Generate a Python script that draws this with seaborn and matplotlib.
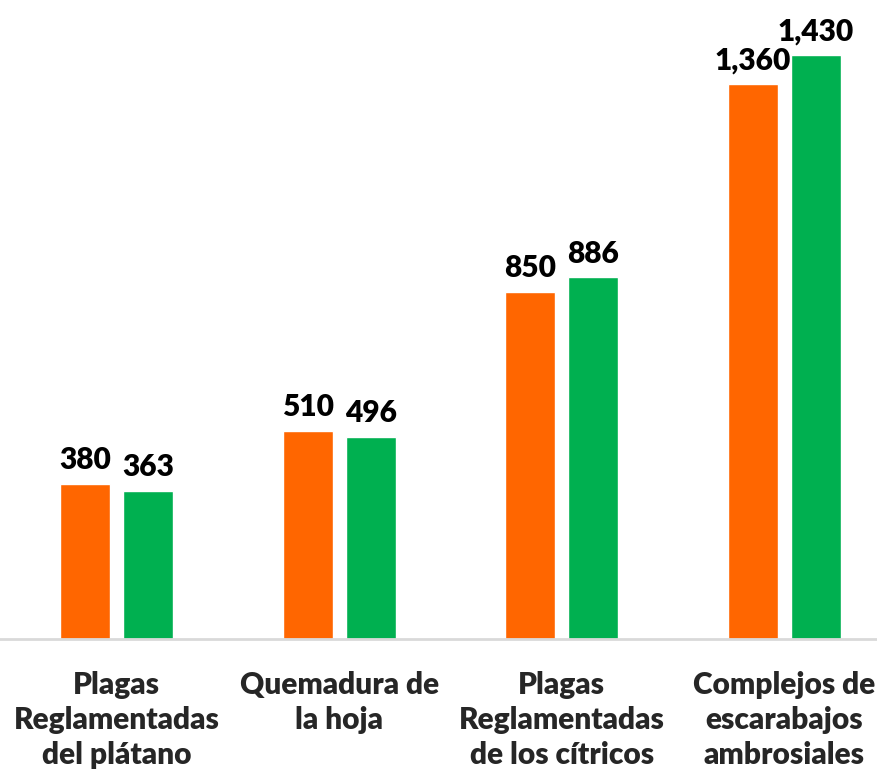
import matplotlib
matplotlib.use("Agg")
import matplotlib.pyplot as plt
import seaborn as sns
import pandas as pd

# datos
categorias = ["Plagas\nReglamentadas\ndel plátano",
              "Quemadura de\nla hoja",
              "Plagas\nReglamentadas\nde los cítricos",
              "Complejos de\nescarabajos\nambrosiales"]
serie_1 = [380, 510, 850, 1360]
serie_2 = [363, 496, 886, 1430]
series = ["Serie 1", "Serie 2"]
colores = ["#FF6600", "#00B050"]

df = pd.DataFrame({
    "categoria": categorias * 2,
    "valor": serie_1 + serie_2,
    "serie": [series[0]] * 4 + [series[1]] * 4,
})

sns.set_style("white")
plt.rcParams["font.family"] = ["Lato", "DejaVu Sans"]

fig = plt.figure(figsize=(8.78, 7.77), dpi=100)
ax = fig.add_axes([0, 0.1776, 1, 0.8224])

sns.barplot(data=df, x="categoria", y="valor", hue="serie", palette=colores,
            width=0.566, gap=0.207, legend=False, ax=ax, saturation=1)

for cont in ax.containers:
    ax.bar_label(cont, labels=[f"{v:,.0f}" for v in cont.datavalues],
                 padding=7, fontsize=21.5, fontweight="heavy", color="black")

ax.set_xlim(-0.523, 3.42)
ax.set_ylim(0, 1566)
ax.set_xlabel("")
ax.set_ylabel("")
ax.set_yticks([])
for s in ["top", "left", "right"]:
    ax.spines[s].set_visible(False)
ax.spines["bottom"].set_color("#D9D9D9")
ax.spines["bottom"].set_linewidth(2)
ax.tick_params(axis="x", length=0, pad=23)
for lbl in ax.get_xticklabels():
    lbl.set_fontsize(21.5)
    lbl.set_fontweight("heavy")
    lbl.set_linespacing(1.31)
    lbl.set_multialignment("center")

fig.savefig("out.png", dpi=100)
